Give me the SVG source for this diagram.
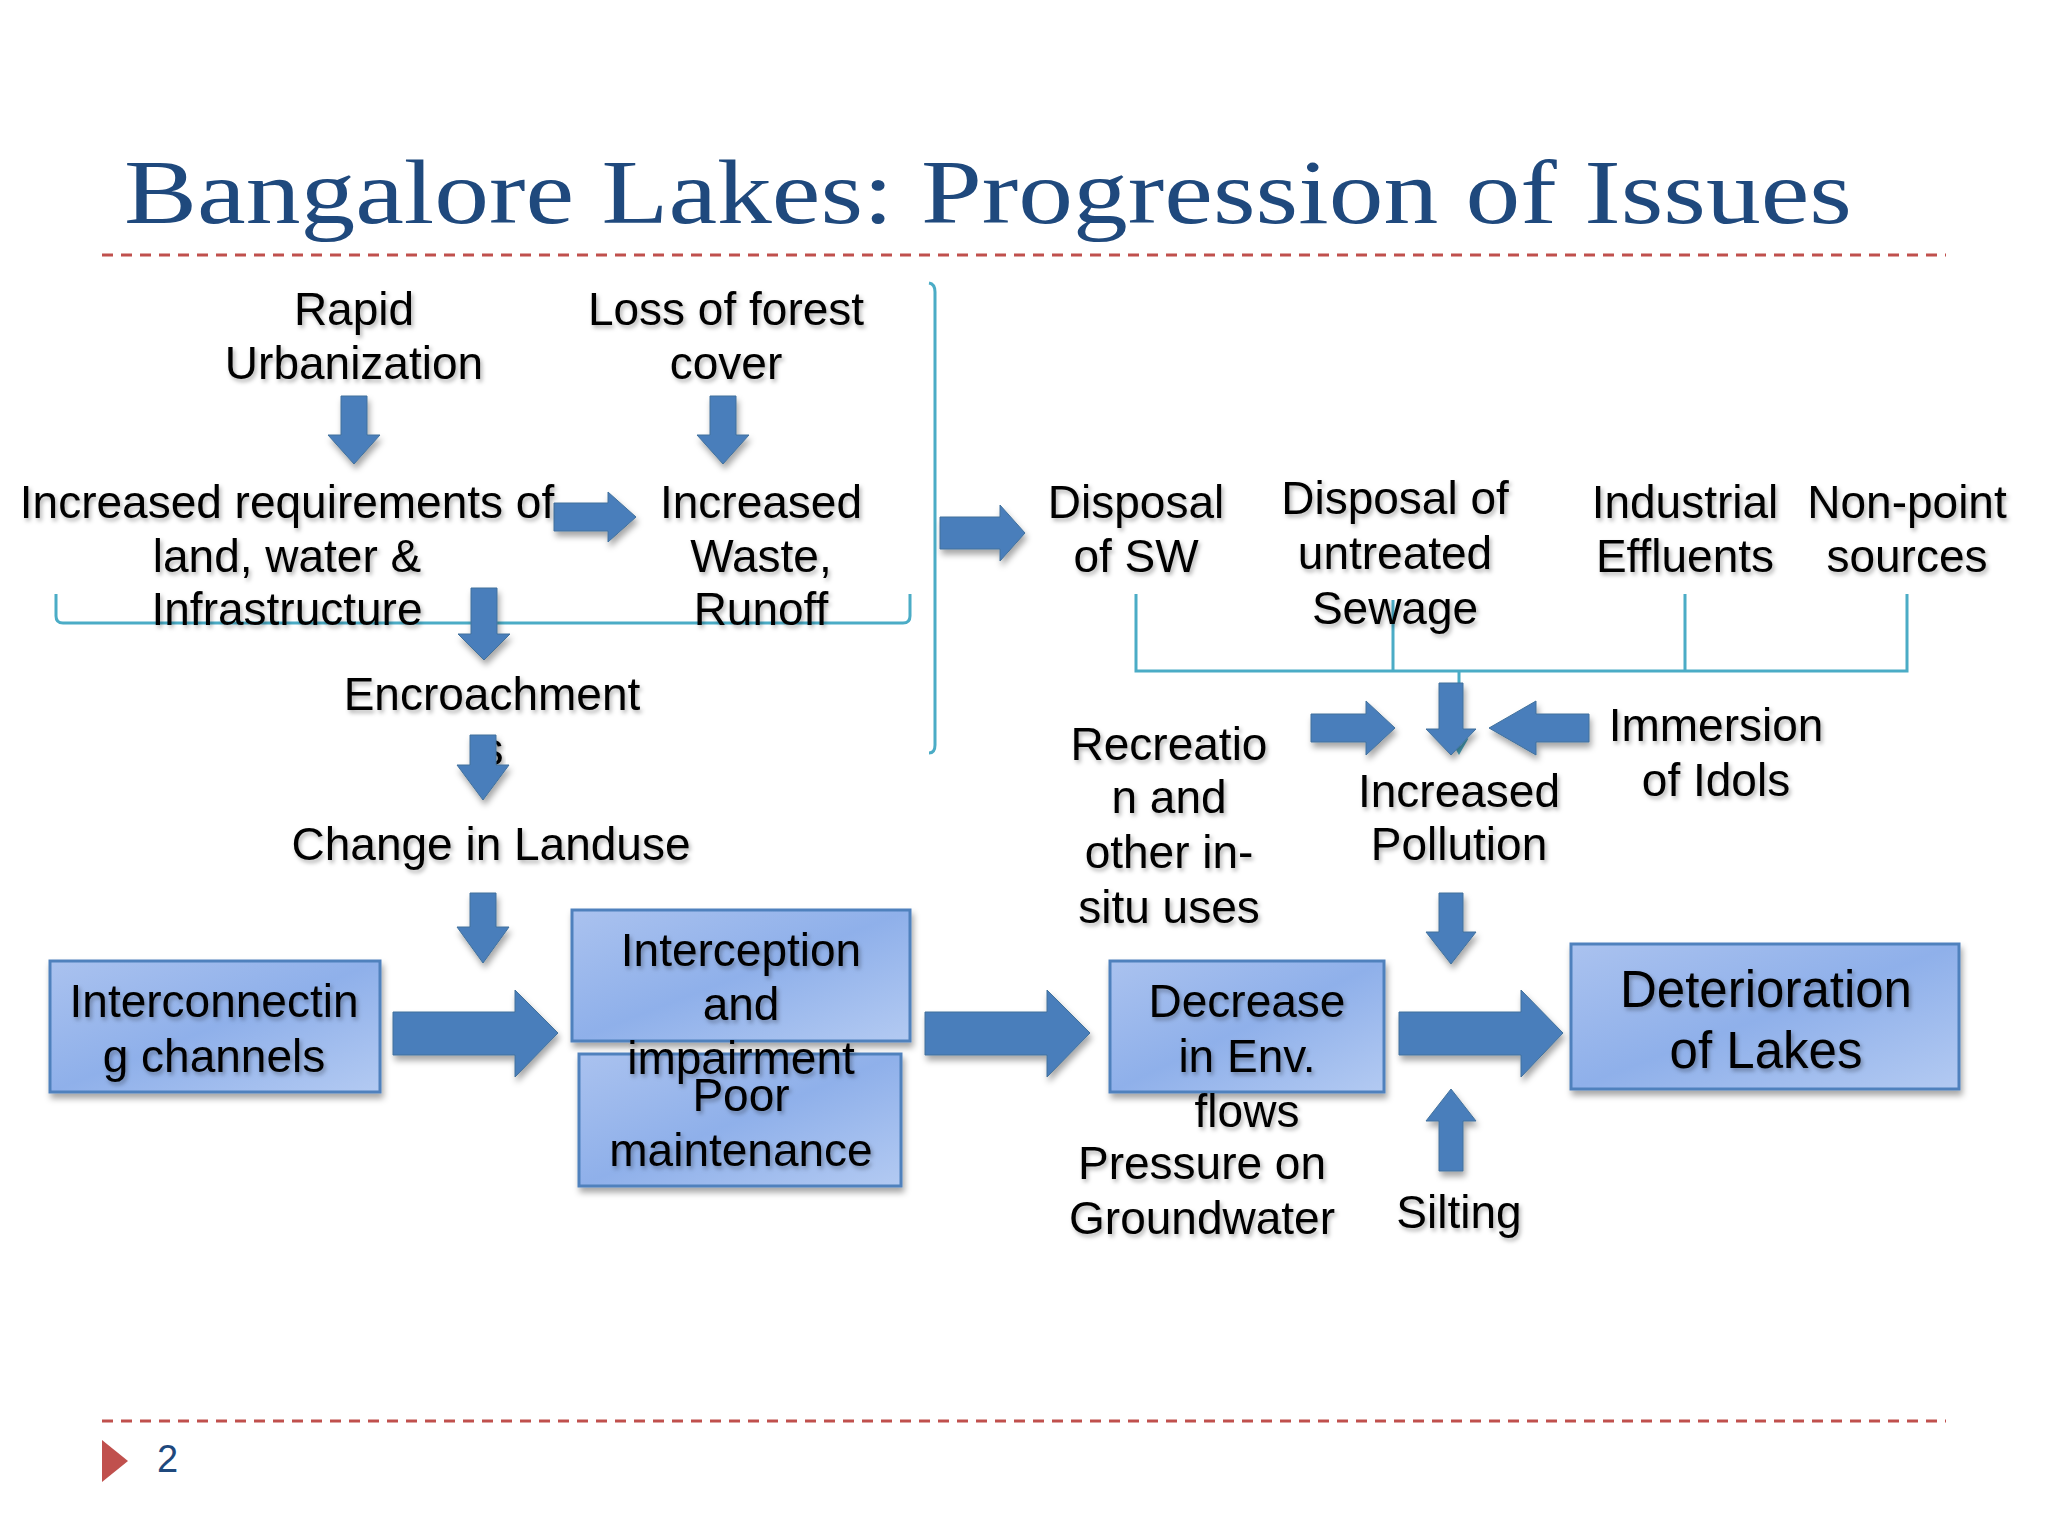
<svg xmlns="http://www.w3.org/2000/svg" width="2048" height="1536" viewBox="0 0 2048 1536">
<defs>
<linearGradient id="boxFill" x1="0" y1="0" x2="1" y2="1">
<stop offset="0" stop-color="#aac2ef"/>
<stop offset="0.5" stop-color="#8fb0ea"/>
<stop offset="1" stop-color="#b3caf2"/>
</linearGradient>
<filter id="shadow" x="-10%" y="-10%" width="130%" height="140%">
<feDropShadow dx="2" dy="5" stdDeviation="3" flood-color="#000" flood-opacity="0.35"/>
</filter>
<filter id="tshadow" x="-5%" y="-10%" width="115%" height="140%">
<feDropShadow dx="2" dy="3" stdDeviation="2" flood-color="#000" flood-opacity="0.3"/>
</filter>
</defs>
<style>
.t{font-family:"Liberation Sans",Arial,sans-serif;font-size:46px;fill:#000;text-anchor:middle;filter:url(#tshadow)}
.big{font-size:51px}
.box{fill:url(#boxFill);stroke:#4f81bd;stroke-width:3;filter:url(#shadow)}
.arr{fill:#4a7ebb;stroke:#41719c;stroke-width:1;filter:url(#shadow)}
.br{fill:none;stroke:#4bacc6;stroke-width:3}
.dash{stroke:#c0504d;stroke-width:3;stroke-dasharray:11 8}
</style>
<rect width="2048" height="1536" fill="#fff"/>
<text x="124" y="223" font-family="Liberation Serif,Times New Roman,serif" font-size="92" fill="#1f497d" textLength="1728" lengthAdjust="spacingAndGlyphs">Bangalore Lakes: Progression of Issues</text>
<line class="dash" x1="102" y1="255" x2="1946" y2="255"/>
<line class="dash" x1="102" y1="1421" x2="1946" y2="1421"/>
<polygon points="102,1440 128,1461 102,1482" fill="#c0504d"/>
<text x="157" y="1472" font-family="Liberation Sans,Arial,sans-serif" font-size="38" fill="#1f497d">2</text>

<g id="nodes-boxes">
<g id="n-interconnecting"><rect class="box" x="50" y="961" width="330" height="131"/></g>
<g id="n-interception"><rect class="box" x="572" y="910" width="338" height="131"/></g>
<g id="n-poor"><rect class="box" x="579" y="1054" width="322" height="132"/></g>
<g id="n-decrease"><rect class="box" x="1110" y="961" width="274" height="131"/></g>
<g id="n-deterioration"><rect class="box" x="1571" y="944" width="388" height="145"/></g>
</g>

<g id="connectors">
<path class="br" d="M56,594 V616 Q56,623 63,623 H903 Q910,623 910,616 V594"/>
<path class="br" d="M929,283 Q935,284 935,292 V745 Q935,753 929,753"/>
<path class="br" d="M1136,594 V671 H1907 V594 M1685,594 V671 M1393,600 V671"/>
<path class="br" d="M1459,671 V750 M1451,738 L1459,752 L1467,738"/>
<path class="arr" d="M341,396 H367 V435 H380 L354,464 L328,435 H341 Z"/>
<path class="arr" d="M710,396 H736 V435 H749 L723,464 L697,435 H710 Z"/>
<path class="arr" d="M554,503 H608 V492 L636,517 L608,542 V531 H554 Z"/>
<path class="arr" d="M471,588 H497 V634 H510 L484,660 L458,634 H471 Z"/>
<path class="arr" d="M470,893 H496 V927 H509 L483,963 L457,927 H470 Z"/>
<path class="arr" d="M940,517 H1000 V505 L1025,533 L1000,561 V549 H940 Z"/>
<path class="arr" d="M1311,714 H1366 V701 L1395,728 L1366,755 V742 H1311 Z"/>
<path class="arr" d="M1589,714 H1536 V701 L1489,728 L1536,755 V742 H1589 Z"/>
<path class="arr" d="M1439,683 H1463 V729 H1476 L1451,755 L1426,729 H1439 Z"/>
<path class="arr" d="M1439,893 H1463 V932 H1476 L1451,964 L1426,932 H1439 Z"/>
<path class="arr" d="M1439,1171 H1463 V1121 H1476 L1451,1089 L1426,1121 H1439 Z"/>
<path class="arr" d="M393,1012 H515 V990 L558,1033 L515,1077 V1055 H393 Z"/>
<path class="arr" d="M925,1012 H1047 V990 L1090,1033 L1047,1077 V1055 H925 Z"/>
<path class="arr" d="M1399,1012 H1521 V990 L1563,1033 L1521,1077 V1055 H1399 Z"/>
</g>

<g id="n-rapid"><text class="t" x="354" y="325">Rapid</text><text class="t" x="354" y="379">Urbanization</text></g>
<g id="n-loss"><text class="t" x="726" y="325">Loss of forest</text><text class="t" x="726" y="379">cover</text></g>
<g id="n-increq"><text class="t" x="287" y="518">Increased requirements of</text><text class="t" x="287" y="572">land, water &amp;</text><text class="t" x="287" y="625">Infrastructure</text></g>
<g id="n-waste"><text class="t" x="761" y="518">Increased</text><text class="t" x="761" y="572">Waste,</text><text class="t" x="761" y="625">Runoff</text></g>
<g id="n-encroach"><text class="t" x="492" y="710">Encroachment</text><text class="t" x="492" y="765">s</text></g>
<path class="arr" d="M470,735 H496 V765 H509 L483,800 L457,765 H470 Z"/>
<g id="n-landuse"><text class="t" x="491" y="860">Change in Landuse</text></g>
<g id="n-sw"><text class="t" x="1136" y="518">Disposal</text><text class="t" x="1136" y="572">of SW</text></g>
<g id="n-sewage"><text class="t" x="1395" y="514">Disposal of</text><text class="t" x="1395" y="569">untreated</text><text class="t" x="1395" y="624">Sewage</text></g>
<g id="n-industrial"><text class="t" x="1685" y="518">Industrial</text><text class="t" x="1685" y="572">Effluents</text></g>
<g id="n-nonpoint"><text class="t" x="1907" y="518">Non-point</text><text class="t" x="1907" y="572">sources</text></g>
<g id="n-immersion"><text class="t" x="1716" y="741">Immersion</text><text class="t" x="1716" y="796">of Idols</text></g>
<g id="n-recreation"><text class="t" x="1169" y="760">Recreatio</text><text class="t" x="1169" y="813">n and</text><text class="t" x="1169" y="868">other in-</text><text class="t" x="1169" y="923">situ uses</text></g>
<g id="n-pollution"><text class="t" x="1459" y="807">Increased</text><text class="t" x="1459" y="860">Pollution</text></g>
<g id="n-interconnecting-text"><text class="t" x="214" y="1017">Interconnectin</text><text class="t" x="214" y="1072">g channels</text></g>
<g id="n-interception-text"><text class="t" x="741" y="966">Interception</text><text class="t" x="741" y="1020">and</text><text class="t" x="741" y="1074">impairment</text></g>
<g id="n-poor-text"><text class="t" x="741" y="1111">Poor</text><text class="t" x="741" y="1166">maintenance</text></g>
<g id="n-decrease-text"><text class="t" x="1247" y="1017">Decrease</text><text class="t" x="1247" y="1072">in Env.</text><text class="t" x="1247" y="1127">flows</text></g>
<g id="n-pressure"><text class="t" x="1202" y="1179">Pressure on</text><text class="t" x="1202" y="1234">Groundwater</text></g>
<g id="n-silting"><text class="t" x="1459" y="1228">Silting</text></g>
<g id="n-deterioration-text"><text class="t big" x="1766" y="1007">Deterioration</text><text class="t big" x="1766" y="1068">of Lakes</text></g>
</svg>
